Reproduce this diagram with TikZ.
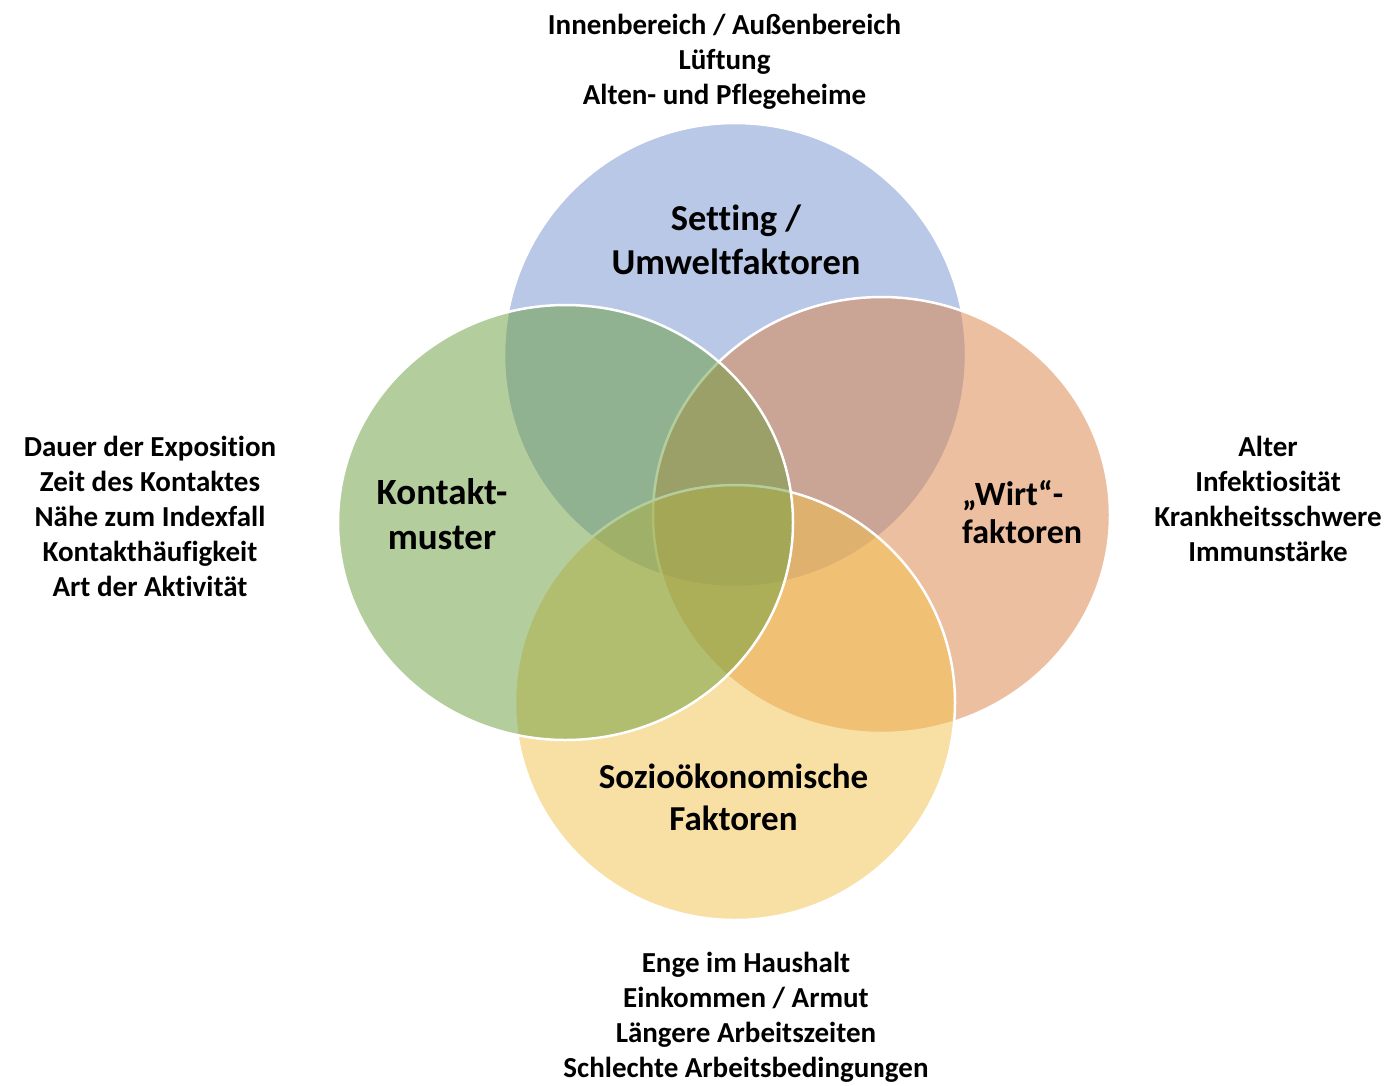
\documentclass[tikz,border=0pt]{standalone}
\usepackage{fontspec}
\setmainfont{Carlito}[Ligatures=NoCommon]
\definecolor{settingblue}{RGB}{115,147,207}
\definecolor{kontaktgreen}{RGB}{107,157,61}
\definecolor{wirtorange}{RGB}{221,129,69}
\definecolor{soziyellow}{RGB}{243,193,73}
\def\listfont{\bfseries\fontsize{29bp}{35bp}\selectfont}
\def\headfont{\bfseries\fontsize{36.5bp}{44bp}\selectfont}

\begin{document}
\begin{tikzpicture}[x=1bp, y=-1bp,
	blob/.style={draw=white, line width=2.5bp, fill opacity=0.5, draw opacity=1},
	head/.style={font=\headfont, align=center, inner sep=0pt},
	factors/.style={font=\listfont, align=center, inner sep=0pt}]
	%%%%% START %%%%%
	
	\fill[white] (0, 0) rectangle (1391, 1085);
	\useasboundingbox (0, 0) rectangle (1391, 1085);
	
	% circles, back to front
	\draw[blob, fill=settingblue] (735, 355) ellipse [x radius=231, y radius=232];
	\draw[blob, fill=wirtorange] (881.5, 515) ellipse [x radius=228.5, y radius=218];
	\draw[blob, fill=soziyellow] (735, 702.5) ellipse [x radius=220, y radius=217.5];
	\draw[blob, fill=kontaktgreen] (565.5, 522.5) ellipse [x radius=227.5, y radius=217.5];
	
	% circle titles
	\node[head] (setting) at (736, 239.5) {Setting /\\Umweltfaktoren};
	\node[head, font=\bfseries\fontsize{37bp}{45bp}\selectfont] (kontakt) at (442, 514) {Kontakt-\\muster};
	\node[head, align=left, anchor=west, font=\bfseries\fontsize{34bp}{38bp}\selectfont] (wirt) at (962, 512.5) {„Wirt“-\\faktoren};
	\node[head, font=\bfseries\fontsize{35bp}{42bp}\selectfont] (sozio) at (733.5, 797.5) {Sozioökonomische\\Faktoren};
	
	% factor lists
	\node[factors] (setting list) at (724.5, 61.5) {Innenbereich / Außenbereich\\Lüftung\\Alten- und Pflegeheime};
	\node[factors] (kontakt list) at (150, 516.5) {Dauer der Exposition\\Zeit des Kontaktes\\Nähe zum Indexfall\\Kontakthäufigkeit\\Art der Aktivität};
	\node[factors] (wirt list) at (1268, 499) {Alter\\Infektiosität\\Krankheitsschwere\\Immunstärke};
	\node[factors] (sozio list) at (746, 1017.5) {Enge im Haushalt\\Einkommen / Armut\\Längere Arbeitszeiten\\Schlechte Arbeitsbedingungen};
	
	%%%%% END %%%%%
\end{tikzpicture}
\end{document}
